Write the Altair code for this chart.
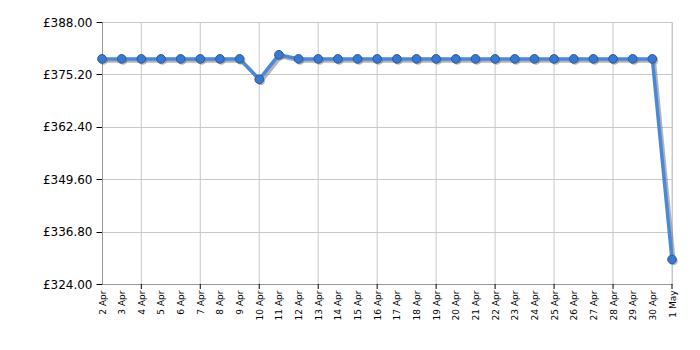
import altair as alt
import pandas as pd

dates = ["2 Apr", "3 Apr", "4 Apr", "5 Apr", "6 Apr", "7 Apr", "8 Apr", "9 Apr",
         "10 Apr", "11 Apr", "12 Apr", "13 Apr", "14 Apr", "15 Apr", "16 Apr",
         "17 Apr", "18 Apr", "19 Apr", "20 Apr", "21 Apr", "22 Apr", "23 Apr",
         "24 Apr", "25 Apr", "26 Apr", "27 Apr", "28 Apr", "29 Apr", "30 Apr", "1 May"]
prices = [378.99, 378.99, 378.99, 378.99, 378.99, 378.99, 378.99, 378.99,
          373.99, 379.99, 378.99, 378.99, 378.99, 378.99, 378.99,
          378.99, 378.99, 378.99, 378.99, 378.99, 378.99, 378.99,
          378.99, 378.99, 378.99, 378.99, 378.99, 378.99, 378.99, 329.99]
grid_dates = ["4 Apr", "7 Apr", "10 Apr", "13 Apr", "16 Apr", "19 Apr",
              "22 Apr", "25 Apr", "28 Apr", "1 May"]
y_ticks = [324.0, 336.8, 349.6, 362.4, 375.2, 388.0]

df = pd.DataFrame({"date": dates, "price": prices})
gdf = pd.DataFrame({"date": grid_dates})

xscale = alt.Scale(type="point", padding=0)
yscale = alt.Scale(domain=[324, 388], nice=False, zero=False)

def X():
    return alt.X("date:N", sort=dates, scale=xscale, title=None)

def Y():
    return alt.Y("price:Q", scale=yscale, title=None,
                 axis=alt.Axis(values=y_ticks,
                               labelExpr="'£' + format(datum.value, '.2f')"))

grid = alt.Chart(gdf).mark_rule(color="#c8c8c8", strokeWidth=1).encode(x=X())
ticks = alt.Chart(gdf).mark_rule(color="#000", strokeWidth=1).encode(
    x=X(), y=alt.value(262), y2=alt.value(267))

shadow = alt.Chart(df).mark_line(color="#777", strokeWidth=3.5, opacity=0.55,
                                 xOffset=2, yOffset=2).encode(x=X(), y=Y())
line = alt.Chart(df).mark_line(color="#4a88dc", strokeWidth=3.5).encode(x=X(), y=Y())
pts_shadow = alt.Chart(df).mark_point(filled=True, size=75, color="#777", opacity=0.5,
                                      xOffset=1.5, yOffset=1.5).encode(x=X(), y=Y())
pts = alt.Chart(df).mark_point(filled=True, size=75, color="#3a78d0",
                               stroke="#2a5a9e", strokeWidth=1, opacity=1).encode(x=X(), y=Y())

chart = alt.layer(grid, ticks, shadow, line, pts_shadow, pts).properties(
    width=570, height=262,
    autosize=alt.AutoSizeParams(type="none"),
    padding={"left": 102, "top": 22, "right": 28, "bottom": 66},
    background="white",
).configure_view(
    stroke="#c8c8c8"
).configure_axisX(
    labelAngle=-90, labelFontSize=9, labelFont="DejaVu Sans", labelColor="#000",
    ticks=False, grid=False, domainColor="#999", labelPadding=6,
    labelOverlap=False
).configure_axisY(
    labelFontSize=12, labelFont="DejaVu Sans", labelColor="#000",
    grid=True, gridColor="#c8c8c8", ticks=True, tickColor="#000", tickSize=6,
    domainColor="#999", labelPadding=4
)

chart.save("out.html", embed_options={"renderer": "svg", "actions": False})
